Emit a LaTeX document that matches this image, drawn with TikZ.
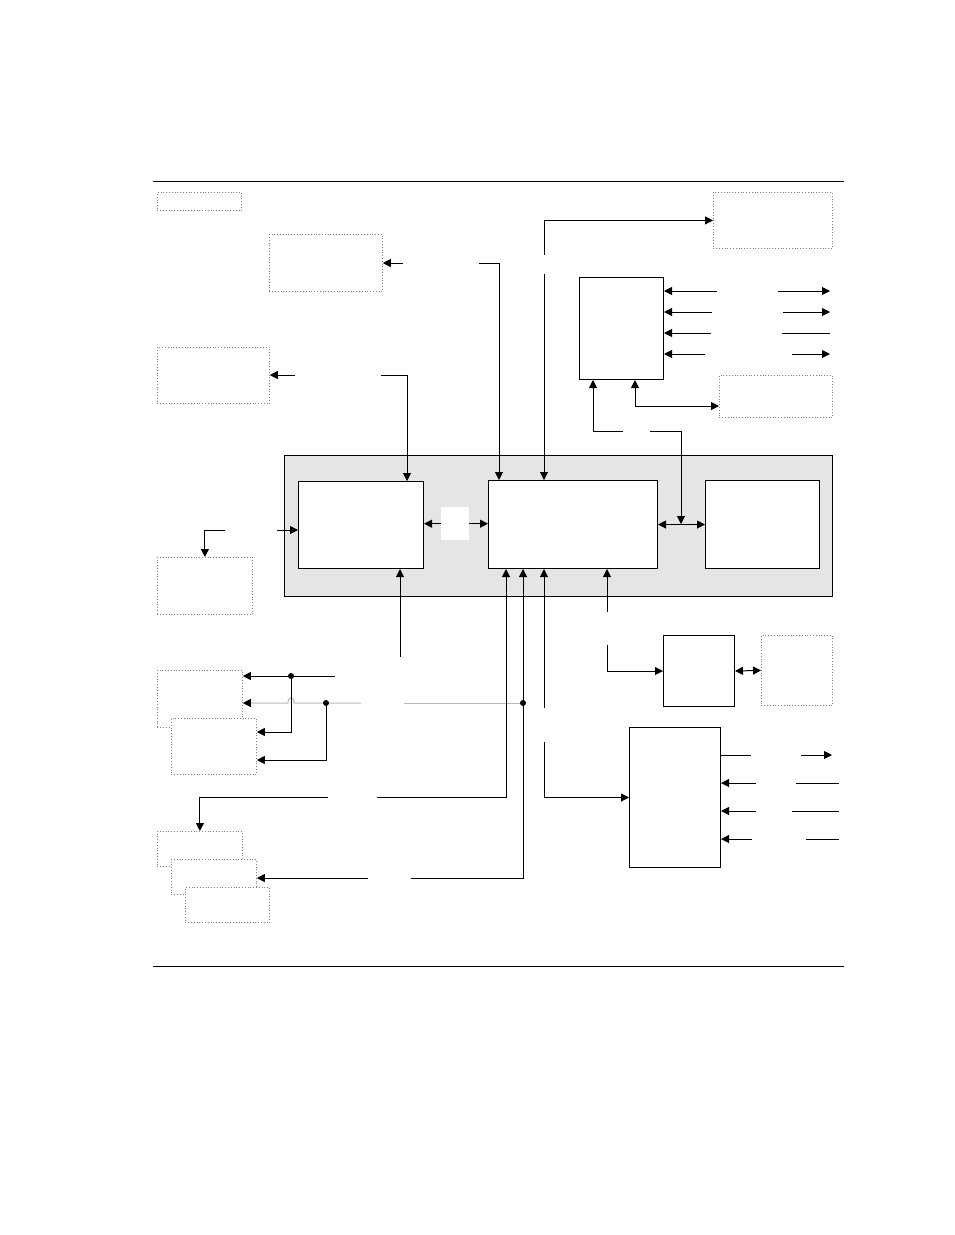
\documentclass[tikz,border=0pt]{standalone}
\usetikzlibrary{arrows.meta}
\tikzset{
  rahmen/.style={draw, line width=1pt, fill=white, inner sep=0pt, anchor=north west},
  punktrahmen/.style={draw=gray, dotted, line width=0.8pt, fill=white, inner sep=0pt, anchor=north west},
  linie/.style={line width=1pt},
  grau/.style={draw=gray!55, line width=1pt},
  pfeil/.style={line width=1pt, -{Triangle[length=8pt,width=8pt,color=black]}},
  doppelpfeil/.style={line width=1pt, {Triangle[length=8pt,width=8pt]}-{Triangle[length=8pt,width=8pt]}},
  punkt/.style={circle, fill, inner sep=0pt, minimum size=6pt}
}
\begin{document}
\begin{tikzpicture}[x=1pt, y=-1pt]
 \useasboundingbox (0,0) rectangle (954,1235);

 % Linien oben und unten
 \draw[linie] (153,181) -- (844,181);
 \draw[linie] (153,966) -- (844,966);

 % Grauer Rahmen mit den drei Bloecken
 \node[draw, line width=1pt, fill=gray!20, inner sep=0pt, anchor=north west,
   minimum width=548pt, minimum height=141pt] (haupt) at (284,455) {};
 \node[rahmen, minimum width=125pt, minimum height=87pt] (links) at (298,481) {};
 \node[fill=white, inner sep=0pt, anchor=north west, minimum width=28pt, minimum height=33pt] (mitte) at (441,507) {};
 \node[rahmen, minimum width=169pt, minimum height=88pt] (kern) at (488,480) {};
 \node[rahmen, minimum width=114pt, minimum height=88pt] (rechts) at (705,480) {};

 % Bloecke aussen
 \node[punktrahmen, minimum width=84pt, minimum height=18pt] (legende) at (157,192) {};
 \node[punktrahmen, minimum width=113pt, minimum height=57pt] (ausA) at (269,234) {};
 \node[punktrahmen, minimum width=112pt, minimum height=56pt] (ausB) at (157,347) {};
 \node[punktrahmen, minimum width=119pt, minimum height=56pt] (ausC) at (713,192) {};
 \node[rahmen, minimum width=84pt, minimum height=102pt] (wandler) at (579,277) {};
 \node[punktrahmen, minimum width=113pt, minimum height=42pt] (ausE) at (719,375) {};
 \node[punktrahmen, minimum width=95pt, minimum height=57pt] (ausF) at (157,557) {};
 \node[rahmen, minimum width=71pt, minimum height=71pt] (treiber) at (663,635) {};
 \node[punktrahmen, minimum width=71pt, minimum height=70pt] (ausT) at (761,635) {};
 \node[rahmen, minimum width=91pt, minimum height=140pt] (port) at (629,727) {};
 \node[punktrahmen, minimum width=85pt, minimum height=57pt] (g1) at (157,670) {};
 \node[punktrahmen, minimum width=85pt, minimum height=56pt] (g2) at (171,718) {};
 \node[punktrahmen, minimum width=85pt, minimum height=35pt] (h1) at (157,831) {};
 \node[punktrahmen, minimum width=85pt, minimum height=35pt] (h2) at (171,859) {};
 \node[punktrahmen, minimum width=84pt, minimum height=35pt] (h3) at (185,887) {};

 % Graue Leitung mit Sprung
 \coordinate (s1) at (361,703);
 \coordinate (s2) at (404,703);
 \coordinate (s3) at (523,703);
 \draw[grau] (s2) -- (s3);
 \draw[grau, pfeil] (s1) -- (294,703) .. controls (294,696) and (288,696) .. (288,703) -- (g1.east |- s1);

 % Verbindungen oben
 \coordinate (a1) at (403,263);
 \coordinate (a2) at (479,263);
 \draw[pfeil] (a1) -- (a1 -| ausA.east);
 \draw[pfeil] (a2) -| ([xshift=11pt]kern.north west);
 \coordinate (b1) at (295,375);
 \coordinate (b2) at (381,375);
 \draw[pfeil] (b1) -- (b1 -| ausB.east);
 \draw[pfeil] (b2) -| ([xshift=109pt]links.north west);
 \coordinate (c1) at (544,255);
 \coordinate (c2) at (544,274);
 \draw[pfeil] (c1) |- (ausC.west);
 \draw[pfeil] (c2) -- (c2 |- kern.north);

 % Wandler rechts
 \foreach \y/\xa/\xb in {291/717/778, 312/712/783, 354/705/792} {
   \draw[pfeil] (\xa,\y) -- (wandler.east |- 0,\y);
   \draw[pfeil] (\xb,\y) -- (830,\y);
 }
 \draw[pfeil] (711,333) -- (wandler.east |- 0,333);
 \draw[linie] (782,333) -- (830,333);
 \coordinate (e1) at (719,406);
 \draw[doppelpfeil] ([xshift=56pt]wandler.south west) |- (e1);
 \coordinate (d1) at (623,431);
 \coordinate (d2) at (650,431);
 \coordinate (mr) at (681,524);
 \draw[pfeil] (d1) -| ([xshift=14pt]wandler.south west);
 \draw[pfeil] (d2) -| (mr);

 % Im grauen Rahmen
 \draw[doppelpfeil] (kern.east) -- (rechts.west);
 \draw[pfeil] (mitte.west) -- (links.east |- mitte.west);
 \draw[pfeil] (mitte.east) -- (kern.west |- mitte.east);
 \coordinate (l1) at (277,530);
 \coordinate (f1) at (225,530);
 \draw[pfeil] (l1) -- (l1 -| links.west);
 \draw[pfeil] (f1) -| (ausF.north);
 \coordinate (l2) at (400,657);
 \draw[pfeil] (l2) -- (l2 |- links.south);

 % Leitungen unten an den Kern
 \coordinate (k1) at (607,612);
 \coordinate (k2) at (607,645);
 \draw[pfeil] (k1) -- (k1 |- kern.south);
 \draw[pfeil] (k2) |- (treiber.west);
 \draw[doppelpfeil] (treiber.east) -- (ausT.west);
 \coordinate (k3) at (544,708);
 \coordinate (k4) at (544,742);
 \draw[pfeil] (k3) -- (k3 |- kern.south);
 \draw[pfeil] (k4) |- (port.west);
 \coordinate (k5) at (411,878);
 \coordinate (k6) at (368,878);
 \draw[pfeil] (k5) -| ([xshift=35pt]kern.south west);
 \draw[pfeil] (k6) -- (h2.east |- k6);
 \coordinate (k7) at (377,797);
 \coordinate (k8) at (328,797);
 \draw[pfeil] (k7) -| ([xshift=18pt]kern.south west);
 \draw[pfeil] (k8) -| (h1.north);
 \node[punkt] (p3) at (s3) {};

 % Port rechts
 \draw[linie] (port.east |- 0,755) -- (751,755);
 \draw[pfeil] (801,755) -- (832,755);
 \foreach \y/\xa/\xb in {783/756/796, 811/756/792, 839/752/806} {
   \draw[pfeil] (\xa,\y) -- (port.east |- 0,\y);
   \draw[linie] (\xb,\y) -- (839,\y);
 }

 % Verteilung links
 \coordinate (g3) at (335,676);
 \draw[pfeil] (g3) -- (g1.east |- g3);
 \node[punkt] (p1) at (291,676) {};
 \draw[pfeil] (p1) |- (g2.east |- 0,732);
 \node[punkt] (p2) at (326,703) {};
 \draw[pfeil] (p2) |- (g2.east |- 0,760);
\end{tikzpicture}
\end{document}
